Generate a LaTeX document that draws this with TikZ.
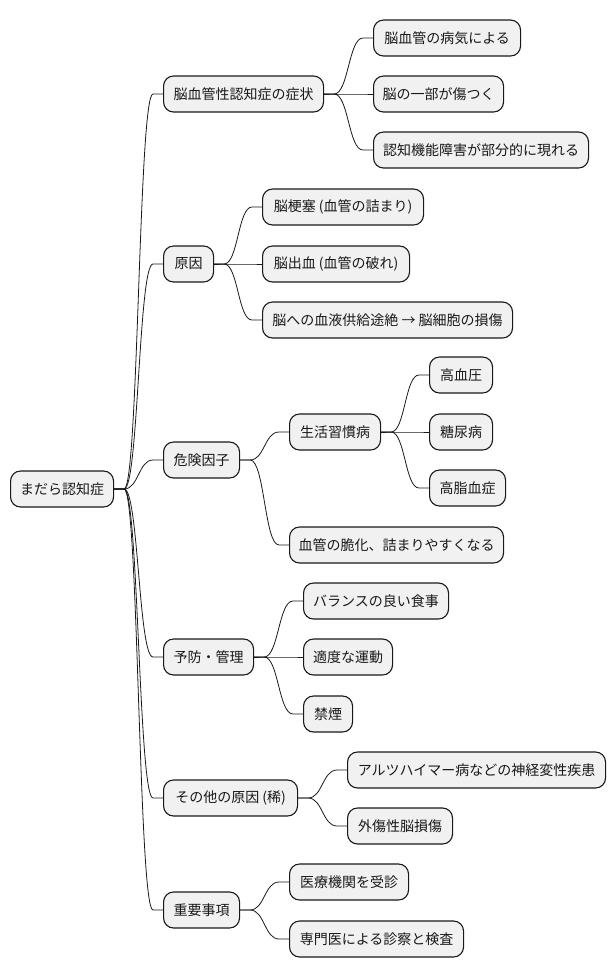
\documentclass[tikz,border=0pt]{standalone}
\usepackage{fontspec}
\newfontfamily\cjk{Noto Sans CJK JP}
\usetikzlibrary{calc}
\tikzset{
  box/.style={draw=black!90, fill=black!5.5, rounded corners=10pt, line width=1.1pt,
    minimum height=36pt, inner xsep=3pt, inner ysep=0pt, anchor=west,
    font=\cjk\fontsize{14}{16}\selectfont, text=black!90},
  conn/.style={draw=black!90, line width=0.8pt}
}
\newcommand{\mnode}[5]{\node[box, minimum width=#4pt] (#1) at (#2pt,-#3pt) {#5};}
\newcommand{\mlink}[2]{\draw[conn] let \p1=(#1.east), \p2=(#2.west), \p3=($(#1.east)!0.5!(#2.west)$) in
  (\p1) -- (\x1+10pt,\y1) .. controls (\x3,\y1) and (\x3,\y2) .. (\x2-10pt,\y2) -- (\p2);}
\begin{document}
\begin{tikzpicture}
\useasboundingbox (0,0) rectangle (616pt,-978pt);
\mnode{root}{10}{489}{103}{まだら認知症}
\mnode{a1}{163}{94}{160}{脳血管性認知症の症状}
\mnode{a2}{163}{264}{50}{原因}
\mnode{a3}{163}{460}{76}{危険因子}
\mnode{a4}{163}{657}{90}{予防・管理}
\mnode{a5}{163}{798}{134}{その他の原因 (稀)}
\mnode{a6}{163}{910}{76}{重要事項}
\mnode{b11}{373}{38}{147}{脳血管の病気による}
\mnode{b12}{373}{94}{130}{脳の一部が傷つく}
\mnode{b13}{373}{150}{215}{認知機能障害が部分的に現れる}
\mnode{b21}{262}{207}{161}{脳梗塞 (血管の詰まり)}
\mnode{b22}{262}{264}{147}{脳出血 (血管の破れ)}
\mnode{b23}{262}{320}{250}{脳への血液供給途絶 → 脳細胞の損傷}
\mnode{b31}{289}{432}{91}{生活習慣病}
\mnode{b32}{289}{545}{214}{血管の脆化、詰まりやすくなる}
\mnode{c1}{429}{375}{63}{高血圧}
\mnode{c2}{429}{432}{63}{糖尿病}
\mnode{c3}{429}{488}{76}{高脂血症}
\mnode{b41}{303}{601}{145}{バランスの良い食事}
\mnode{b42}{303}{657}{89}{適度な運動}
\mnode{b43}{303}{714}{49}{禁煙}
\mnode{b51}{347}{770}{258}{アルツハイマー病などの神経変性疾患}
\mnode{b52}{347}{826}{105}{外傷性脳損傷}
\mnode{b61}{289}{882}{119}{医療機関を受診}
\mnode{b62}{289}{939}{174}{専門医による診察と検査}
\mlink{root}{a1}
\mlink{root}{a2}
\mlink{root}{a3}
\mlink{root}{a4}
\mlink{root}{a5}
\mlink{root}{a6}
\mlink{a1}{b11}
\mlink{a1}{b12}
\mlink{a1}{b13}
\mlink{a2}{b21}
\mlink{a2}{b22}
\mlink{a2}{b23}
\mlink{a3}{b31}
\mlink{a3}{b32}
\mlink{b31}{c1}
\mlink{b31}{c2}
\mlink{b31}{c3}
\mlink{a4}{b41}
\mlink{a4}{b42}
\mlink{a4}{b43}
\mlink{a5}{b51}
\mlink{a5}{b52}
\mlink{a6}{b61}
\mlink{a6}{b62}
\end{tikzpicture}
\end{document}
